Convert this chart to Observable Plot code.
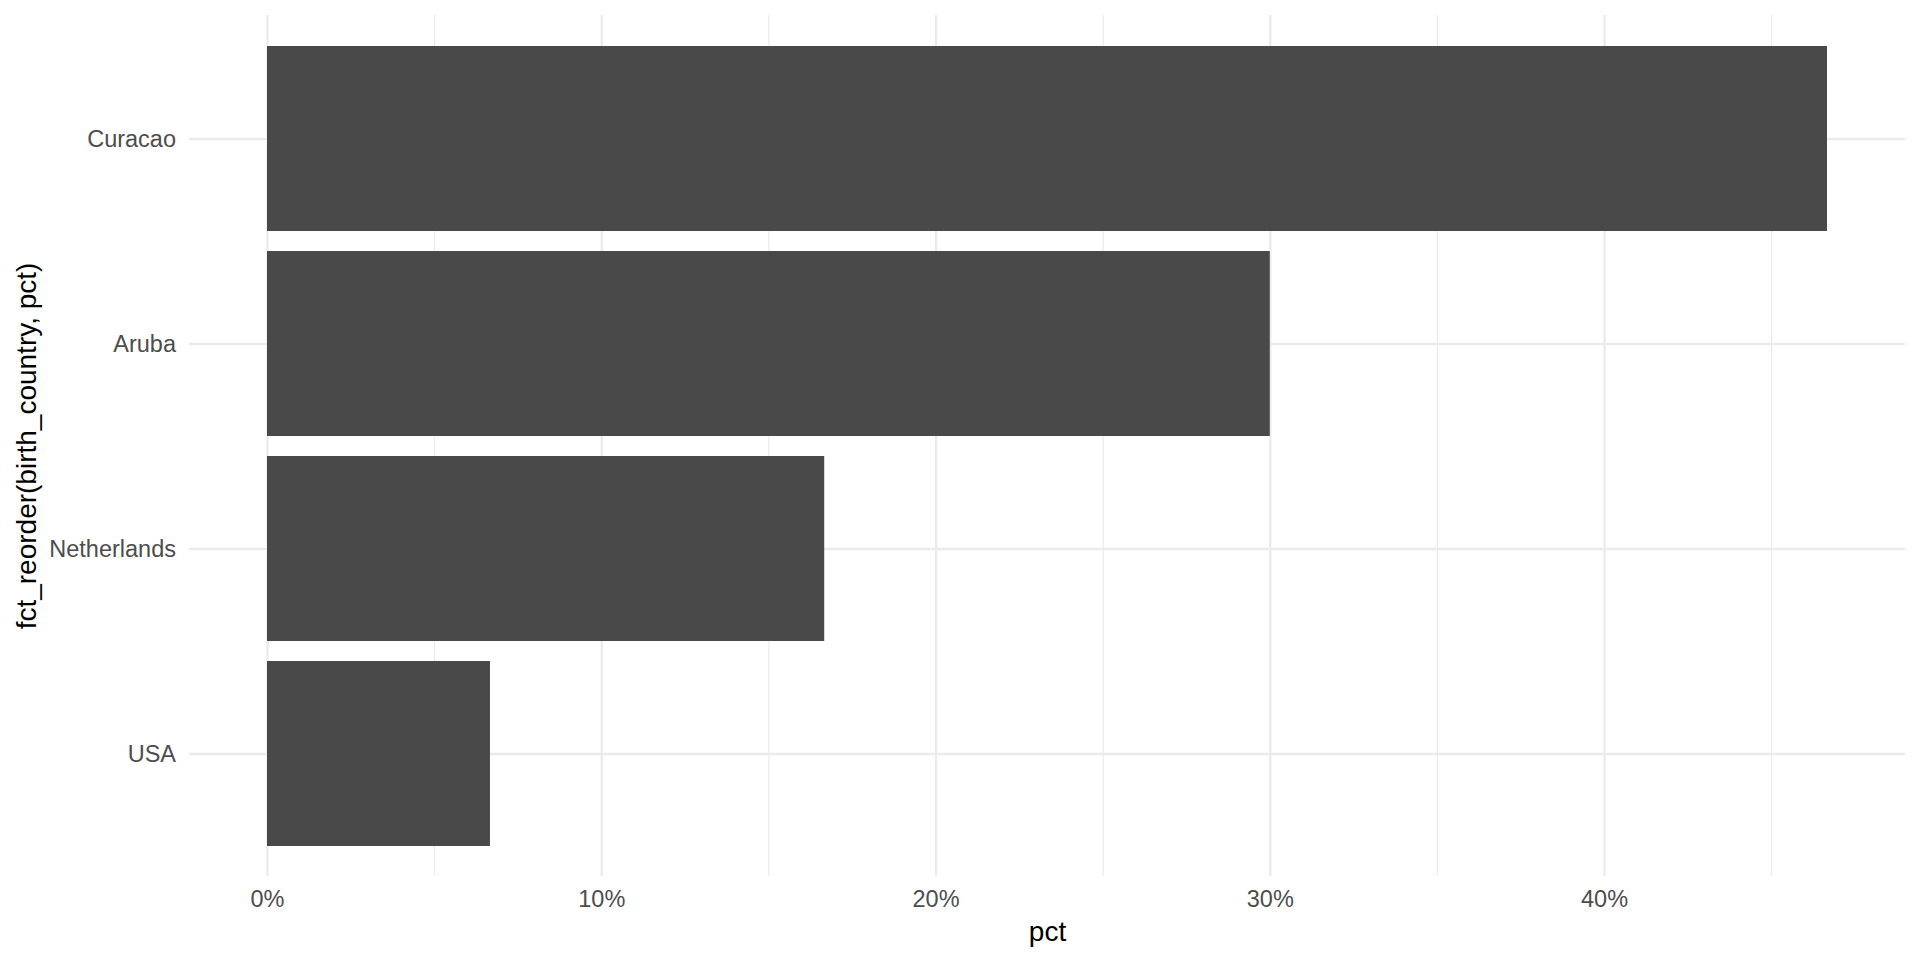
<!DOCTYPE html>
<html>
<head>
<meta charset="utf-8">
<script src="https://cdn.jsdelivr.net/npm/d3@7"></script>
<script src="https://cdn.jsdelivr.net/npm/@observablehq/plot@0.6"></script>
<style>
  html, body { margin: 0; padding: 0; background: #ffffff; }
  #chart svg { display: block; }
</style>
</head>
<body>
<div id="chart"></div>
<script>
// Data
const countries = ["Curacao", "Aruba", "Netherlands", "USA"];
const pct = [0.4667, 0.30, 0.1667, 0.0667];
const majorTicks = [0, 0.1, 0.2, 0.3, 0.4];
const minorTicks = [0.05, 0.15, 0.25, 0.35, 0.45];

const rows = countries.map((c, i) => ({country: c, pct: pct[i]}));
const maxV = d3.max(pct);
const pad = maxV * 0.05;

const font = "'Liberation Sans', Arial, Helvetica, sans-serif";

const chart = Plot.plot({
  width: 1920,
  height: 960,
  marginLeft: 189,
  marginRight: 15,
  marginTop: 15,
  marginBottom: 84,
  style: {fontFamily: font, background: "#ffffff", overflow: "visible"},
  x: {domain: [-pad, maxV + pad]},
  y: {domain: countries, paddingInner: 0.1, paddingOuter: 0.15},
  marks: [
    Plot.ruleX(minorTicks, {stroke: "#ebebeb", strokeWidth: 1.2}),
    Plot.ruleX(majorTicks, {stroke: "#ebebeb", strokeWidth: 2.3}),
    Plot.ruleY(countries, {stroke: "#ebebeb", strokeWidth: 2.3}),
    Plot.barX(rows, {x1: 0, x2: "pct", y: "country", fill: "#494949"}),
    Plot.axisX(majorTicks, {
      tickSize: 0, tickPadding: 14, fontSize: 23.5, color: "#4d4d4d",
      tickFormat: d3.format(".0%"),
      label: null
    }),
    Plot.axisY({
      tickSize: 0, tickPadding: 13.5, fontSize: 23.5, color: "#4d4d4d",
      label: null
    }),
    Plot.text(["pct"], {
      frameAnchor: "bottom", lineAnchor: "bottom", dy: 64,
      fontSize: 28, fill: "#000000"
    }),
    Plot.text(["fct_reorder(birth_country, pct)"], {
      frameAnchor: "left", textAnchor: "middle", rotate: -90, lineAnchor: "top", dx: -173,
      fontSize: 28, fill: "#000000"
    })
  ]
});
document.getElementById("chart").appendChild(chart);
</script>
</body>
</html>
